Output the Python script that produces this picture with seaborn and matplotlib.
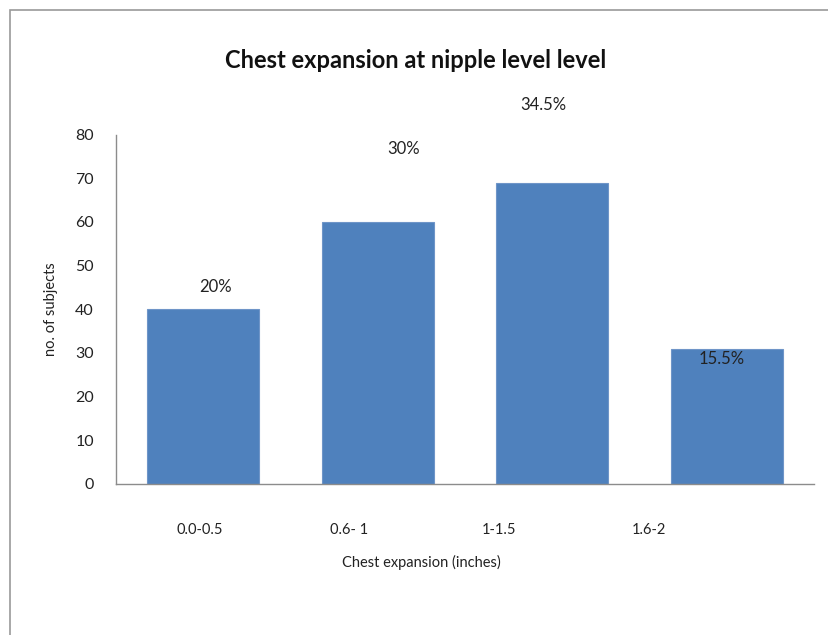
import matplotlib
matplotlib.use("Agg")
import matplotlib.pyplot as plt
import seaborn as sns
import pandas as pd
from matplotlib.patches import Rectangle

# data
categories = ["0.0-0.5", "0.6- 1", "1-1.5", "1.6-2"]
subjects = [40, 60, 69, 31]
pct_labels = ["20%", "30%", "34.5%", "15.5%"]

sns.set_style("white")
plt.rcParams['font.family'] = ['Lato', 'DejaVu Sans']

df = pd.DataFrame({"range": categories, "n": subjects})

fig = plt.figure(figsize=(8.29, 6.35), dpi=100)
ax = fig.add_axes([0.140, 0.238, 0.842, 0.550])

sns.barplot(data=df, x="range", y="n", color="#4F81BD", width=0.64,
            saturation=1, edgecolor="#6f95c8", linewidth=0.8, ax=ax)

ax.set_ylim(0, 80)
ax.set_xlim(-0.5, 3.5)
ax.set_yticks(range(0, 81, 10))
ax.tick_params(axis='y', length=0, pad=16, labelsize=11.5, colors="#222222")

# category labels sit a bit left of the bars in the original
ax.set_xticks([i * 0.857 - 0.02 for i in range(len(categories))])
ax.set_xticklabels(categories)
ax.tick_params(axis='x', length=0, pad=28, labelsize=10.5, colors="#222222")

for s in ["top", "right"]:
    ax.spines[s].set_visible(False)
for s in ["left", "bottom"]:
    ax.spines[s].set_color("#8c8c8c")
    ax.spines[s].set_linewidth(1.0)

ax.set_xlabel("")
ax.set_ylabel("no. of subjects", fontsize=10.5, labelpad=12, color="#222222")

# percentage labels (placed as in the original)
lab_x = [0.067, 1.15, 1.947, 2.97]
lab_y = [45.2, 76.6, 86.7, 28.7]
for x, y, t in zip(lab_x, lab_y, pct_labels):
    ax.text(x, y, t, ha="center", va="center", fontsize=12, color="#222222",
            clip_on=False)

fig.text(0.501, 0.905, "Chest expansion at nipple level level", ha="center",
         va="center", fontsize=17, fontweight="bold", color="#111111")
fig.text(0.508, 0.115, "Chest expansion (inches)", ha="center", va="center",
         fontsize=10.5, color="#222222")

# chart-area border, cut off at right and bottom
fig.patches.append(Rectangle((10 / 829, -0.1), 1.2, (635 - 10) / 635 + 0.1,
                             transform=fig.transFigure, fill=False,
                             edgecolor="#9a9a9a", linewidth=1.2))

fig.savefig("out.png", dpi=100)
